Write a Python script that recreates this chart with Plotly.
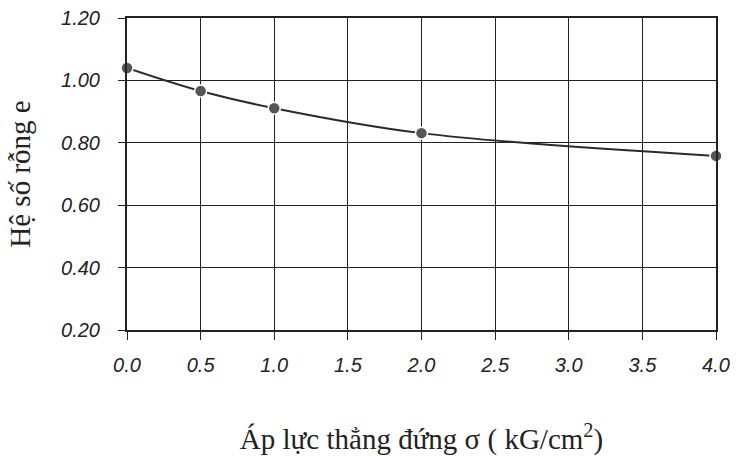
import plotly.graph_objects as go

pressure = [0.0, 0.5, 1.0, 2.0, 4.0]
void_ratio = [1.04, 0.966, 0.911, 0.831, 0.758]
x_ticks = [0.0, 0.5, 1.0, 1.5, 2.0, 2.5, 3.0, 3.5, 4.0]
x_tick_labels = ["0.0", "0.5", "1.0", "1.5", "2.0", "2.5", "3.0", "3.5", "4.0"]
y_ticks = [0.2, 0.4, 0.6, 0.8, 1.0, 1.2]
y_tick_labels = ["0.20", "0.40", "0.60", "0.80", "1.00", "1.20"]

fig = go.Figure()
fig.add_trace(go.Scatter(
    x=pressure, y=void_ratio, mode="lines+markers",
    line=dict(color="#2a2a2a", width=2, shape="spline", smoothing=1.0),
    marker=dict(size=12, color="#555555", line=dict(color="white", width=1.5)),
    showlegend=False, cliponaxis=False,
))

tickfont = dict(family="Liberation Sans, Arial, sans-serif", size=20, color="#222222", style="italic")
titlefont = dict(family="Liberation Serif, Times New Roman, serif", size=29, color="#222222")

fig.update_layout(
    width=744, height=457,
    margin=dict(l=127, r=28, t=18, b=127),
    paper_bgcolor="white", plot_bgcolor="white",
    xaxis=dict(
        range=[0, 4], tickvals=x_ticks, ticktext=x_tick_labels, automargin=False,
        showgrid=True, gridcolor="#222222", gridwidth=1,
        showline=True, linecolor="#222222", linewidth=2, mirror=True,
        ticks="outside", ticklen=8, tickcolor="#222222", tickwidth=1,
        tickfont=tickfont, ticklabelstandoff=8, zeroline=False,
        title=dict(text="Áp lực thẳng đứng σ ( kG/cm<sup>2</sup>)", font=titlefont, standoff=54),
    ),
    yaxis=dict(
        range=[0.2, 1.2], tickvals=y_ticks, ticktext=y_tick_labels, automargin=False,
        showgrid=True, gridcolor="#222222", gridwidth=1,
        showline=True, linecolor="#222222", linewidth=2, mirror=True,
        ticks="outside", ticklen=7, tickcolor="#222222", tickwidth=1,
        tickfont=tickfont, ticklabelstandoff=14, zeroline=False,
        title=dict(text="Hệ số rỗng e", font=titlefont, standoff=22),
    ),
)

fig.write_html("out.html", config={"displayModeBar": False},
               post_script="document.body.style.margin='0';")
